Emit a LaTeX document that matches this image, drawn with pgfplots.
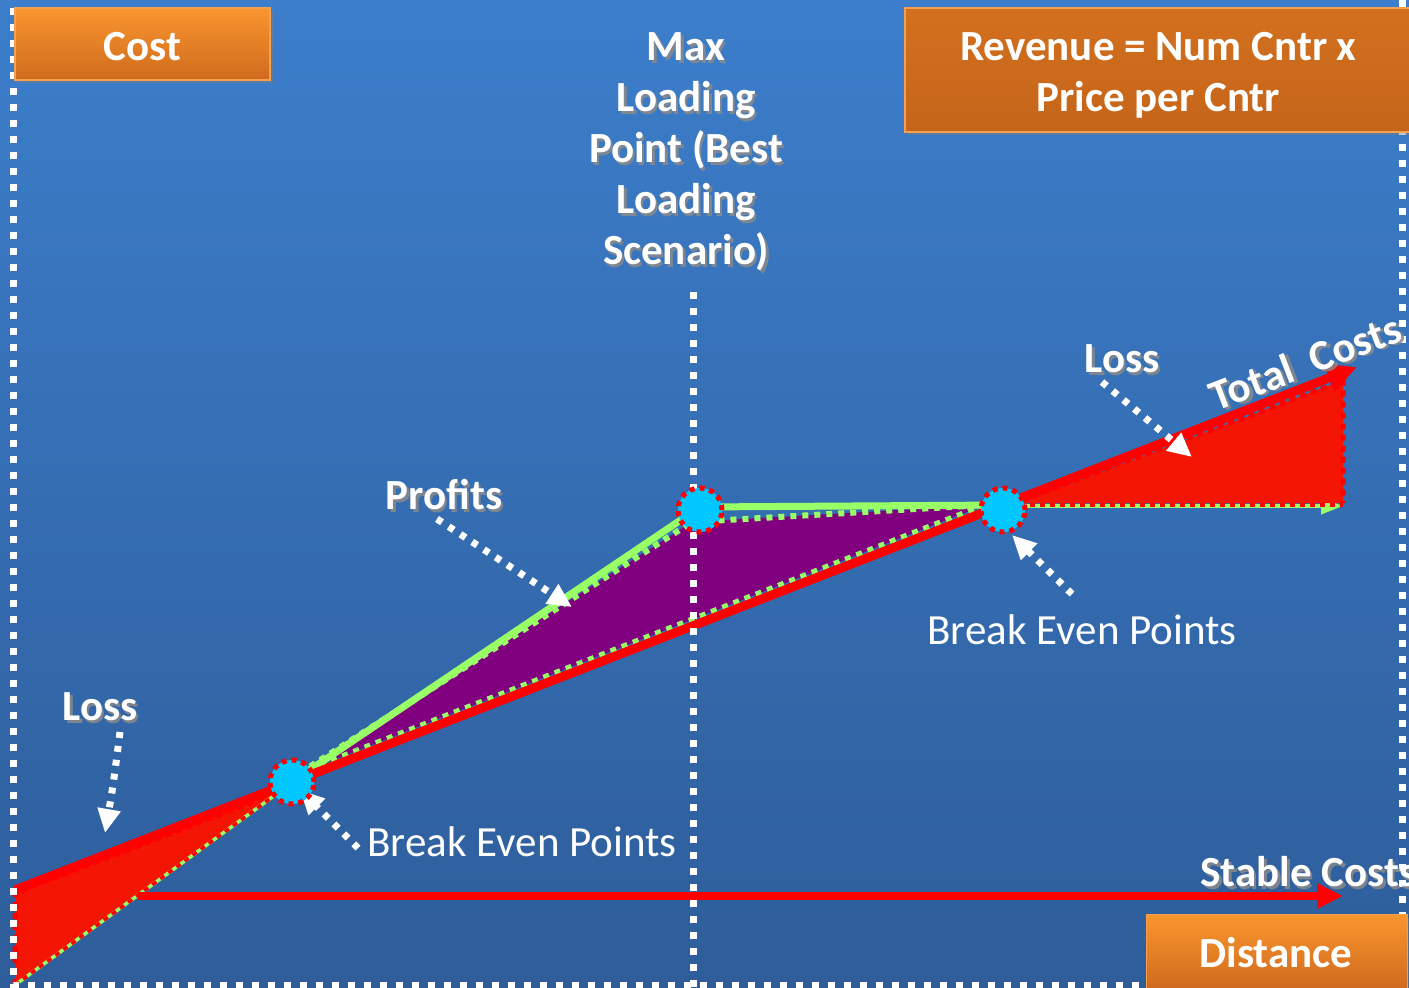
\documentclass[border=0pt]{standalone}
\usepackage{fontspec}
\setmainfont{Carlito}
\usepackage{pgfplots}
\pgfplotsset{compat=1.18}
\usetikzlibrary{arrows.meta,shadows}
\definecolor{bgtop}{HTML}{3C7ECB}
\definecolor{bgbot}{HTML}{2E5D9A}
\definecolor{orTop}{HTML}{FA962F}
\definecolor{orBot}{HTML}{CF6A1D}
\definecolor{orBorder}{HTML}{F5A04E}
\definecolor{revTop}{HTML}{D3701F}
\definecolor{revBot}{HTML}{C5651A}
\definecolor{gr}{HTML}{99FF66}
\definecolor{pur}{HTML}{800080}
\definecolor{cy}{HTML}{00C8FF}
\definecolor{lossred}{HTML}{F51505}
\definecolor{shd}{HTML}{8A8A8A}
\newcommand\bigf{\fontsize{43}{51}\selectfont}
\newcommand\shnode[4][0]{%
  \node[text=shd, opacity=0.85, align=center, font=\bigf\bfseries, rotate=#1, xshift=2.5pt, yshift=-2.5pt] at (axis cs:#2,#3) {#4};
  \node[text=white, align=center, font=\bigf\bfseries, rotate=#1] at (axis cs:#2,#3) {#4};}
\begin{document}
\begin{tikzpicture}
\begin{axis}[x=1pt,y=1pt,xmin=0,xmax=1409,ymin=0,ymax=988,y dir=reverse,
  hide axis,clip=false]
% background
\fill[top color=bgtop,bottom color=bgbot] (axis cs:0,0) rectangle (axis cs:1409,988);
% purple profit region
\addplot[fill=pur, draw=none] coordinates {(300,773)(692,522)(985,505)(305,771)(300,773)};
\addplot[gr, line width=6pt, dash pattern=on 6pt off 6pt] coordinates {(300,773)(692,522)(985,505)};
\addplot[gr, line width=6pt, dash pattern=on 6pt off 6pt] coordinates {(985,505)(305,771)};
% left loss triangle
\addplot[fill=lossred, draw=none] coordinates {(15,890)(285,788)(15,985)(15,890)};
\addplot[red, line width=5pt, dash pattern=on 6pt off 5pt] coordinates {(15,985)(15,893)(282,791)};
\addplot[gr, line width=3.5pt] coordinates {(15,985)(282,790)};
\addplot[red, line width=3.5pt, dash pattern=on 5pt off 5pt] coordinates {(15,985)(282,790)};
% green thin arrow (revenue continuation)
\addplot[gr, line width=4pt, -{Triangle[width=16pt,length=22pt]}] coordinates {(1003,506)(1343,506)};
% right loss triangle
\addplot[fill=lossred, draw=none] coordinates {(1020,503)(1343,380)(1343,503)(1020,503)};
\addplot[red, line width=5pt, dash pattern=on 6pt off 5pt] coordinates {(1022,500)(1343,381)(1343,503)};
\addplot[red, line width=3.5pt, dash pattern=on 5pt off 5pt] coordinates {(1010,505)(1343,505)};
% revenue line
\addplot[gr, line width=7pt] coordinates {(280,790)(700,507)(1003,505)};
% total costs
\addplot[red, line width=9pt, -{Triangle[width=28pt,length=30pt]}] coordinates {(15,890)(1357,367)};
% stable costs
\addplot[red, line width=8pt, -{Triangle[width=24pt,length=26pt]}] coordinates {(138,896)(1343,896)};
% frame dotted lines
\addplot[white, line width=7pt, dash pattern=on 7pt off 9pt] coordinates {(13,8)(13,985)(1402,985)(1402,0)};
\addplot[white, line width=7pt, dash pattern=on 7pt off 9pt] coordinates {(693,292)(693,988)};
% break even points
\addplot[only marks, mark=*, mark size=22pt, mark options={fill=cy, draw=red, line width=5pt, dash pattern=on 5pt off 5pt}] coordinates {(292,782)(700,510)(1003,510)};
% annotation arrows
\addplot[white, line width=7pt, dash pattern=on 6pt off 8pt, smooth, -{Triangle[width=22pt,length=24pt]}] coordinates {(120,732)(113,785)(105,833)};
\addplot[white, line width=7pt, dash pattern=on 6pt off 8pt, -{Triangle[width=22pt,length=24pt]}] coordinates {(358,848)(300,790)};
\addplot[white, line width=7pt, dash pattern=on 6pt off 8pt, -{Triangle[width=22pt,length=24pt]}] coordinates {(437,519)(572,607)};
\addplot[white, line width=7pt, dash pattern=on 6pt off 8pt, -{Triangle[width=22pt,length=24pt]}] coordinates {(1102,382)(1192,457)};
\addplot[white, line width=7pt, dash pattern=on 6pt off 8pt, -{Triangle[width=22pt,length=24pt]}] coordinates {(1072,594)(1012,535)};
% texts
\shnode{686}{152}{Max\\Loading\\Point (Best\\Loading\\Scenario)}
\shnode{100}{707}{Loss}
\shnode{444}{495}{Profits}
\shnode{1122}{359}{Loss}
\shnode[21]{1305}{362}{Total\ \ Costs}
\node[text=shd, opacity=0.85, font=\bigf\bfseries, anchor=west, xshift=2.5pt, yshift=-2.5pt] at (axis cs:1197,872) {Stable Costs};
\node[text=white, font=\bigf\bfseries, anchor=west] at (axis cs:1197,872) {Stable Costs};
\node[text=white, font=\bigf, anchor=west] at (axis cs:364,842) {Break Even Points};
\node[text=white, font=\bigf] at (axis cs:1082,630) {Break Even Points};
% boxes
\node[draw=orBorder, line width=1.5pt, top color=orTop, bottom color=orBot, minimum width=255pt, minimum height=72pt, inner sep=0pt, drop shadow={opacity=0.45, shadow xshift=3pt, shadow yshift=-3pt}] at (axis cs:142.5,44) {};
\node[text=white, font=\bigf\bfseries] at (axis cs:142.5,47) {Cost};
\node[draw=orBorder, line width=1.5pt, top color=revTop, bottom color=revBot, minimum width=507pt, minimum height=124pt, inner sep=0pt, drop shadow={opacity=0.45, shadow xshift=3pt, shadow yshift=-3pt}] at (axis cs:1158.5,70) {};
\node[text=white, font=\bigf\bfseries, align=center] at (axis cs:1158.5,75) {Revenue = Num Cntr x\\Price per Cntr};
\node[draw=orBorder, line width=1.5pt, top color=orTop, bottom color=orBot, minimum width=261pt, minimum height=75pt, inner sep=0pt, drop shadow={opacity=0.45, shadow xshift=3pt, shadow yshift=-3pt}] at (axis cs:1277,952) {};
\node[text=white, font=\bigf\bfseries] at (axis cs:1276,953) {Distance};
\end{axis}
\pgfresetboundingbox
\useasboundingbox (current axis.south west) rectangle (current axis.north east);
\end{tikzpicture}
\end{document}
